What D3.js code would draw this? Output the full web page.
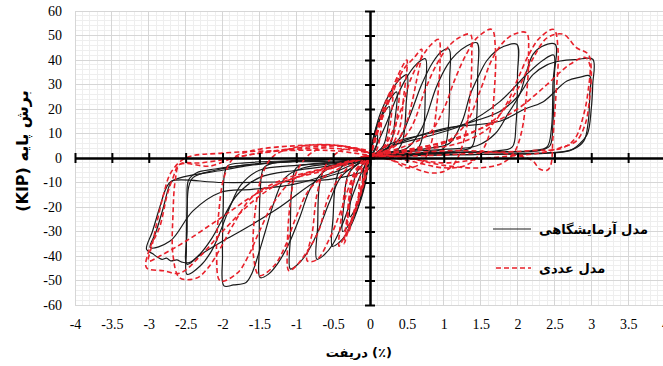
<!DOCTYPE html>
<html>
<head>
<meta charset="utf-8">
<script src="https://cdn.jsdelivr.net/npm/d3@7"></script>
<style>
  body { margin: 0; background: #fff; }
  svg { display: block; }
  .num text { font-family: "Liberation Serif", "Times New Roman", serif; font-size: 14px; fill: #000; }
  .fa { font-family: "DejaVu Sans", sans-serif; font-weight: bold; fill: #000; }
</style>
</head>
<body>
<svg id="chart" width="663" height="366"></svg>
<script>
// tick values
const xTicks = [-4, -3.5, -3, -2.5, -2, -1.5, -1, -0.5, 0, 0.5, 1, 1.5, 2, 2.5, 3, 3.5, 4];
const yTicks = [-60, -50, -40, -30, -20, -10, 0, 10, 20, 30, 40, 50, 60];

const legendNames = ['مدل آزمایشگاهی', 'مدل عددی'];
const xTitleWord = 'دریفت';
const xTitleUnit = '(٪)';
const yTitle = 'برش پایه (KIP)';

const testLoops = [
  [[0,0],[0.04,6],[0.1,10],[0.08,4],[0,0],[-0.04,-6],[-0.1,-11],[-0.08,-4],[0,0]],
  [[0,0],[0.05,9],[0.12,15],[0.2,19],[0.26,21],[0.24,12],[0.18,5],[0.08,2],[0,0],[-0.06,-9],[-0.14,-17],[-0.22,-22],[-0.27,-24],[-0.25,-14],[-0.18,-6],[-0.08,-2],[0,0]],
  [[0,0],[0.06,9],[0.15,17],[0.25,23],[0.36,27],[0.34,16],[0.28,6],[0.15,2],[0,0],[-0.06,-10],[-0.16,-20],[-0.28,-27],[-0.37,-30],[-0.35,-18],[-0.3,-7],[-0.15,-2],[0,0]],
  [[0,0],[0.06,10],[0.15,19],[0.28,27],[0.4,32],[0.5,34],[0.49,22],[0.45,8],[0.38,3.5],[0.2,2],[0,1],[-0.07,-10],[-0.18,-22],[-0.3,-30],[-0.42,-34.5],[-0.51,-36],[-0.5,-24],[-0.46,-9],[-0.38,-3.5],[-0.2,-2],[0,-0.5]],
  [[0,0],[0.1,6],[0.22,14],[0.35,24],[0.48,32],[0.62,38],[0.75,40.5],[0.75,28],[0.72,10],[0.65,4],[0.45,2.5],[0.15,1.5],[0,0],[-0.1,-5],[-0.22,-14],[-0.36,-26],[-0.5,-35],[-0.62,-39.5],[-0.72,-41.3],[-0.71,-28],[-0.68,-10],[-0.6,-4],[-0.4,-2.5],[-0.15,-1],[0,0]],
  [[0,0],[0.2,3],[0.4,8],[0.55,18],[0.7,30],[0.85,39],[0.97,43.5],[1.07,44.5],[1.08,32],[1.06,12],[1,4],[0.8,2.5],[0.4,1.5],[0,0],[-0.2,-3],[-0.4,-8],[-0.55,-18],[-0.72,-31],[-0.88,-40],[-1,-44],[-1.08,-45.3],[-1.08,-32],[-1.06,-12],[-1,-4],[-0.8,-2.5],[-0.4,-1.5],[0,0]],
  [[0,0],[0.3,2.5],[0.5,4],[0.7,12],[0.9,29],[1.05,38],[1.17,42.5],[1.3,45.5],[1.45,47],[1.46,34],[1.44,14],[1.38,4.5],[1.2,3],[0.7,2],[0.2,1],[0,0],[-0.3,-2.5],[-0.6,-5],[-0.8,-12],[-0.95,-24],[-1.1,-35],[-1.25,-43],[-1.38,-47.5],[-1.49,-48.8],[-1.5,-36],[-1.49,-14],[-1.44,-4],[-1.3,-2],[-0.8,-1.5],[-0.3,-1],[0,0]],
  [[0,0],[0.4,2.5],[0.8,4],[1.08,6],[1.25,15],[1.36,26],[1.48,34],[1.58,39.6],[1.7,43.5],[1.81,45.5],[1.99,46.4],[2,34],[1.98,14],[1.93,4.5],[1.75,3],[1.2,2.2],[0.5,1.2],[0,0],[-0.4,-2],[-0.9,-4],[-1.15,-8],[-1.3,-18],[-1.42,-30],[-1.52,-40],[-1.6,-47],[-1.68,-50.8],[-1.85,-51.8],[-1.98,-52.2],[-2,-40],[-1.99,-20],[-1.97,-6],[-1.92,-3],[-1.7,-2],[-1,-1],[-0.3,-0.5],[0,0]],
  [[0,0],[0.5,2.5],[1,3.5],[1.45,5],[1.7,10],[1.87,18],[2.03,26],[2.12,35],[2.21,42.3],[2.33,45.5],[2.51,46.4],[2.5,34],[2.48,14],[2.44,5],[2.3,3],[1.6,2.5],[0.8,2],[0,0],[-0.5,-2],[-1,-3],[-1.5,-5],[-1.75,-11],[-1.9,-20],[-2.03,-30],[-2.15,-38],[-2.3,-44],[-2.48,-47.5],[-2.49,-38],[-2.48,-20],[-2.46,-9],[-2.35,-6],[-2.1,-4.5],[-1.6,-2.6],[-0.8,-1],[0,0]],
  [[0,0],[0.3,5],[0.8,9],[1.3,14],[1.76,23],[2.12,34],[2.35,40],[2.49,42],[2.48,30],[2.46,12],[2.4,4.5],[2.2,3],[1.5,2.5],[0.6,1.5],[0,0],[-0.3,-5],[-0.7,-9],[-1.22,-20],[-1.67,-28.4],[-2,-34],[-2.3,-39.5],[-2.48,-43.4],[-2.48,-30],[-2.46,-12],[-2.4,-8],[-2.1,-5],[-1.6,-2.6],[-0.8,-1],[0,0]],
  [[0,0],[0.3,6],[0.8,10],[1.3,14],[1.76,19],[2,25],[2.21,34],[2.4,38],[2.58,39.6],[2.8,40.2],[3.02,40.3],[3.02,30],[3,20],[2.95,10],[2.85,6],[2.71,3],[2.3,2],[1.5,1.5],[0.6,1],[0,0],[-0.5,-3],[-1,-5],[-1.5,-8],[-1.8,-15],[-2,-25],[-2.15,-33],[-2.3,-39],[-2.45,-42.7],[-2.55,-42.5],[-2.62,-41.6],[-2.7,-42],[-2.76,-40.9],[-2.82,-41.4],[-2.88,-40.5],[-2.95,-39],[-3.03,-37.3],[-2.95,-30],[-2.85,-20],[-2.76,-12],[-2.69,-9.4],[-2,-10],[-1,-9.5],[-0.5,-8.5],[0,-4],[0,0]],
  [[0,0],[0.3,5],[1,12],[1.76,15],[2.1,20],[2.35,23],[2.67,31.4],[2.85,33],[2.98,33.5],[2.98,26],[2.96,15],[2.9,7],[2.75,3.5],[2.4,2],[1.5,1.5],[0.5,1],[0,0],[-0.5,-6],[-1.04,-10.8],[-1.6,-12.8],[-2.03,-14.1],[-2.4,-21.6],[-2.71,-33.9],[-2.98,-36.6],[-2.9,-30],[-2.8,-20],[-2.73,-12],[-2.69,-9.6],[-2.5,-7.5],[-2,-5],[-1.63,-3],[-0.8,-1],[0,0]]
];

// numerical model loops
const modelLoops = [
  [[0,0],[0.06,8],[0.15,15],[0.12,6],[0.05,1],[0,0],[-0.06,-8],[-0.15,-16],[-0.12,-6],[-0.05,-1],[0,0]],
  [[0,0],[0.1,12],[0.2,22],[0.3,28],[0.28,15],[0.2,5],[0.1,2],[0,0],[-0.1,-12],[-0.2,-22],[-0.3,-28],[-0.28,-15],[-0.2,-5],[-0.1,-2],[0,0]],
  [[0,0],[0.1,11],[0.25,24],[0.4,34],[0.38,20],[0.3,8],[0.15,3],[0,1],[-0.1,-11],[-0.2,-21],[-0.3,-31],[-0.28,-18],[-0.2,-7],[-0.1,-1],[0,0]],
  [[0,0],[0.15,15],[0.3,26],[0.45,36],[0.6,41],[0.7,44.4],[0.62,30],[0.5,15],[0.35,6],[0.15,2],[0,0],[-0.1,-10],[-0.2,-20],[-0.3,-30],[-0.35,-35],[-0.3,-22],[-0.22,-10],[-0.1,-3],[0,0]],
  [[0,0],[0.12,12],[0.3,28],[0.45,38],[0.5,40],[0.46,26],[0.38,10],[0.2,2],[0,0],[-0.12,-12],[-0.25,-26],[-0.38,-34],[-0.42,-36],[-0.38,-22],[-0.3,-8],[-0.15,0],[0,1]],
  [[0,0],[0.2,5],[0.4,18],[0.55,32],[0.7,41],[0.82,46],[0.93,48.4],[0.95,40],[0.9,20],[0.82,5],[0.7,-2],[0.5,-4],[0.3,-1],[0,0],[-0.2,-6],[-0.4,-22],[-0.55,-33],[-0.72,-41.5],[-0.85,-42],[-0.78,-30],[-0.72,-15],[-0.6,-3],[-0.4,3],[-0.2,4],[0,2]],
  [[0,1],[0.3,4],[0.55,12],[0.75,28],[0.9,38],[1.05,45],[1.2,49],[1.36,50.5],[1.38,42],[1.35,22],[1.28,8],[1.15,-2],[1,-5.5],[0.8,-6],[0.5,-3],[0.2,0],[0,1],[-0.3,-4],[-0.55,-15],[-0.7,-30],[-0.85,-38],[-1,-44],[-1.1,-46],[-1.12,-36],[-1.08,-18],[-1,-6],[-0.8,2],[-0.5,5],[-0.2,4],[0,2]],
  [[0,1],[0.4,4],[0.8,10],[1,20],[1.15,32],[1.3,42],[1.45,49],[1.65,52.5],[1.7,45],[1.68,25],[1.62,10],[1.5,2],[1.3,-3],[1,-4],[0.5,-1],[0,1],[-0.4,-4],[-0.8,-12],[-1,-24],[-1.15,-36],[-1.3,-44],[-1.5,-48],[-1.58,-40],[-1.55,-20],[-1.45,-6],[-1.3,1],[-0.9,5],[-0.4,5],[0,2]],
  [[0,1],[0.5,3],[1,6],[1.3,14],[1.5,28],[1.65,40],[1.8,47],[1.95,50.5],[2.12,51.1],[2.15,42],[2.12,25],[2.05,10],[1.95,2],[1.8,-2],[1.5,-4],[1,-3],[0.5,0],[0,1],[-0.5,-4],[-1,-8],[-1.3,-18],[-1.5,-30],[-1.65,-40],[-1.8,-47],[-2.03,-50.2],[-2.08,-40],[-2.05,-22],[-1.98,-8],[-1.85,0],[-1.6,3],[-1,5],[-0.4,5],[0,2]],
  [[0,1],[0.6,3],[1.2,6],[1.6,12],[1.85,22],[2,32],[2.15,42],[2.3,49],[2.49,52.5],[2.55,44],[2.52,25],[2.48,8],[2.45,-3],[2.4,-5],[2.3,-4.5],[2.2,-1],[1.8,2],[1.2,3],[0.5,2],[0,1],[-0.6,-4],[-1.2,-9],[-1.6,-16],[-1.85,-27],[-2.05,-38],[-2.2,-45],[-2.35,-49],[-2.58,-48.9],[-2.67,-40],[-2.67,-22],[-2.64,-9],[-2.58,-2.6],[-2.3,-2],[-1.85,0],[-1.6,1.5],[-1,4],[-0.5,5],[0,3]],
  [[0,1],[0.6,4],[1.2,8],[1.7,16],[2,28],[2.2,40],[2.4,49],[2.62,50.5],[2.8,45],[2.96,42.3],[3,36],[2.98,25],[2.92,14],[2.8,7],[2.58,4.2],[2.3,2],[1.6,0],[1,-2],[0.5,0],[0,1],[-0.6,-5],[-1.2,-10],[-1.6,-18],[-2,-30],[-2.3,-40],[-2.58,-47],[-2.8,-46],[-3.03,-44.8],[-3,-38],[-2.85,-28],[-2.75,-15],[-2.67,-8],[-2.58,-2.6],[-2.17,-3.3],[-1.85,0],[-1.2,3],[-0.5,4],[0,2]],
  [[0,1],[0.8,5],[1.5,12],[2,20],[2.4,30],[2.7,38],[2.92,41],[2.98,38],[2.96,28],[2.9,18],[2.78,8],[2.6,4],[2.2,3],[1.5,2],[0.8,1],[0,0],[-0.8,-6],[-1.5,-14],[-2,-24],[-2.5,-34],[-2.85,-40],[-3,-42],[-2.95,-35],[-2.88,-25],[-2.8,-15],[-2.7,-6],[-2.5,0],[-2,2],[-1.2,3],[-0.5,3],[0,1]]
];

const svg = d3.select('#chart');
const W = 663, H = 366;
const margin = { left: 75, right: -2, top: 11, bottom: 61 };

const x = d3.scaleLinear([-4, 4], [margin.left, W - margin.right]);
const y = d3.scaleLinear([-60, 60], [H - margin.bottom, margin.top]);

svg.append('rect').attr('width', W).attr('height', H).attr('fill', '#fff');

svg.append('clipPath').attr('id', 'plot-clip')
  .append('rect')
  .attr('x', x(-4)).attr('y', y(60))
  .attr('width', x(4) - x(-4)).attr('height', y(-60) - y(60));

// grid
const grid = svg.append('g').attr('class', 'grid');
const minorX = d3.range(-40, 41).map((d) => d / 10);
const minorY = d3.range(-30, 31).map((d) => d * 2);
grid.selectAll('line.mx').data(minorX).join('line').attr('class', 'mx')
  .attr('x1', (d) => x(d)).attr('x2', (d) => x(d)).attr('y1', y(60)).attr('y2', y(-60))
  .attr('stroke', '#eeeeee').attr('stroke-width', 1).attr('shape-rendering', 'crispEdges');
grid.selectAll('line.my').data(minorY).join('line').attr('class', 'my')
  .attr('x1', x(-4)).attr('x2', x(4)).attr('y1', (d) => y(d)).attr('y2', (d) => y(d))
  .attr('stroke', '#eeeeee').attr('stroke-width', 1).attr('shape-rendering', 'crispEdges');
grid.selectAll('line.gx').data(xTicks).join('line').attr('class', 'gx')
  .attr('x1', (d) => x(d)).attr('x2', (d) => x(d)).attr('y1', y(60)).attr('y2', y(-60))
  .attr('stroke', '#d6d6d6').attr('stroke-width', 1).attr('shape-rendering', 'crispEdges');
grid.selectAll('line.gy').data(yTicks).join('line').attr('class', 'gy')
  .attr('x1', x(-4)).attr('x2', x(4)).attr('y1', (d) => y(d)).attr('y2', (d) => y(d))
  .attr('stroke', '#d6d6d6').attr('stroke-width', 1).attr('shape-rendering', 'crispEdges');

// data
const line = d3.line()
  .x((d) => x(d[0]))
  .y((d) => y(d[1]))
  .curve(d3.curveCatmullRom.alpha(0.5));

const plot = svg.append('g').attr('clip-path', 'url(#plot-clip)');

plot.append('g').selectAll('path').data(testLoops).join('path')
  .attr('d', line)
  .attr('fill', 'none')
  .attr('stroke', '#1a1a1a')
  .attr('stroke-width', 1.2);

plot.append('g').selectAll('path').data(modelLoops).join('path')
  .attr('d', line)
  .attr('fill', 'none')
  .attr('stroke', '#e8202a')
  .attr('stroke-width', 1.6)
  .attr('stroke-dasharray', '5,3');

// centre axes with crossing ticks
const axX0 = svg.append('g').attr('transform', `translate(0,${y(0)})`);
axX0.append('g').call(d3.axisBottom(x).tickValues(xTicks).tickSizeInner(5).tickSizeOuter(0).tickFormat(''));
axX0.append('g').call(d3.axisTop(x).tickValues(xTicks).tickSizeInner(5).tickSizeOuter(0).tickFormat(''));
const axY0 = svg.append('g').attr('transform', `translate(${x(0)},0)`);
axY0.append('g').call(d3.axisLeft(y).tickValues(yTicks).tickSizeInner(5).tickSizeOuter(0).tickFormat(''));
axY0.append('g').call(d3.axisRight(y).tickValues(yTicks).tickSizeInner(5).tickSizeOuter(0).tickFormat(''));
svg.selectAll('.domain, .tick line').attr('stroke', '#000').attr('stroke-width', 2);

// tick labels along the frame
const fmt = (d) => String(d);
svg.append('g').attr('class', 'num')
  .attr('transform', `translate(0,${y(-60)})`)
  .call(d3.axisBottom(x).tickValues(xTicks).tickSize(0).tickPadding(14).tickFormat(fmt))
  .call((g) => g.select('.domain').remove());
svg.append('g').attr('class', 'num')
  .attr('transform', `translate(${x(-4)},0)`)
  .call(d3.axisLeft(y).tickValues(yTicks).tickSize(0).tickPadding(13).tickFormat(fmt))
  .call((g) => g.select('.domain').remove());
svg.selectAll('.num text').attr('font-size', null).attr('font-family', null);

// titles
const xt = svg.append('g').attr('class', 'fa').attr('font-size', 13);
xt.append('text').attr('x', 368).attr('y', 357).attr('text-anchor', 'end').text(xTitleWord);
xt.append('text').attr('x', 372).attr('y', 357).attr('text-anchor', 'start').text(xTitleUnit);

svg.append('text').attr('class', 'fa')
  .attr('transform', 'translate(28,151) rotate(-90)')
  .attr('text-anchor', 'middle')
  .attr('direction', 'rtl')
  .attr('font-size', 16)
  .text(yTitle);

// legend
const legend = svg.append('g');
const legendRows = [
  { name: legendNames[0], y: 229, stroke: '#1a1a1a', dash: null, x1: 493, w: 1.2 },
  { name: legendNames[1], y: 268, stroke: '#e8202a', dash: '5,3', x1: 496, w: 1.6 }
];
legend.selectAll('line').data(legendRows).join('line')
  .attr('x1', (d) => d.x1).attr('x2', 531)
  .attr('y1', (d) => d.y).attr('y2', (d) => d.y)
  .attr('stroke', (d) => d.stroke).attr('stroke-width', (d) => d.w)
  .attr('stroke-dasharray', (d) => d.dash);
legend.selectAll('text').data(legendRows).join('text')
  .attr('class', 'fa')
  .attr('x', 539).attr('y', (d) => d.y + 5)
  .attr('font-size', 13)
  .text((d) => d.name);
</script>
</body>
</html>
